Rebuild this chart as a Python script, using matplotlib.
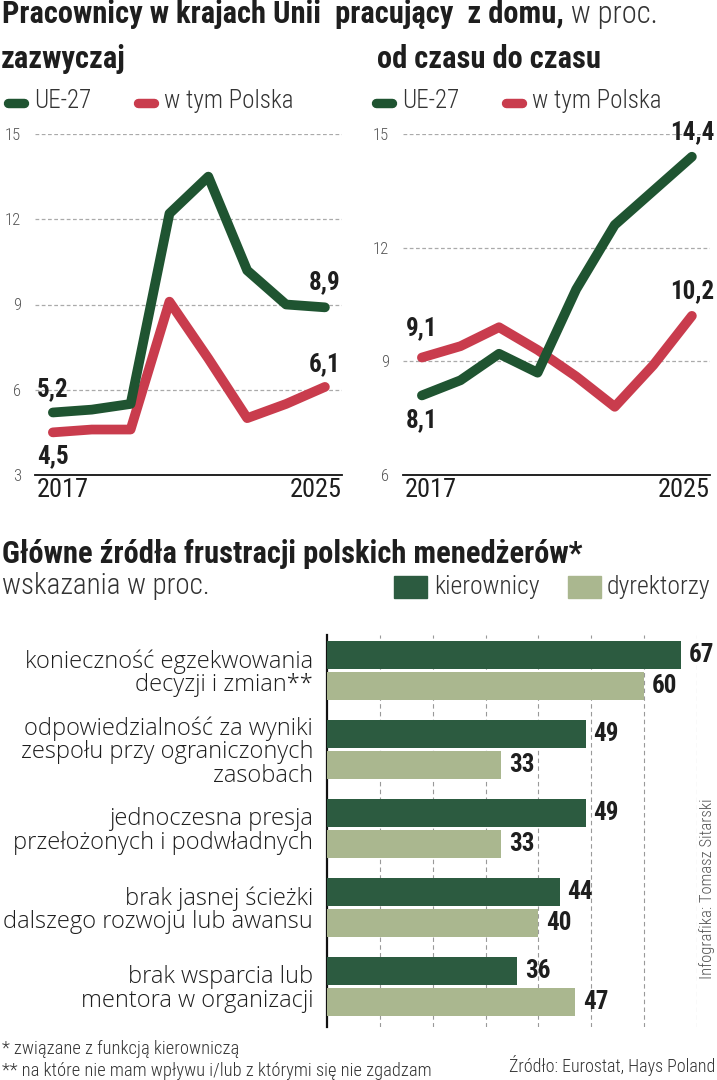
import numpy as np
import matplotlib.pyplot as plt
from matplotlib.lines import Line2D
from matplotlib.patches import Rectangle
from matplotlib.text import Annotation

COND = ['Roboto Condensed', 'DejaVu Sans']
WIDE = ['Open Sans', 'DejaVu Sans']
plt.rcParams['font.family'] = COND

# dane - praca z domu (UE-27 i Polska), w proc.
year_labels = ['2017', '2025']
ue_usually = [5.2, 5.3, 5.5, 12.2, 13.5, 10.2, 9.0, 8.9]
pl_usually = [4.5, 4.6, 4.6, 9.1, 7.1, 5.0, 5.5, 6.1]
ue_sometimes = [8.1, 8.5, 9.2, 8.7, 10.9, 12.6, 13.5, 14.4]
pl_sometimes = [9.1, 9.4, 9.9, 9.3, 8.6, 7.8, 8.9, 10.2]

# dane - frustracje menedzerow
categories = ['konieczność egzekwowania\ndecyzji i zmian**',
              'odpowiedzialność za wyniki\nzespołu przy ograniczonych\nzasobach',
              'jednoczesna presja\nprzełożonych i podwładnych',
              'brak jasnej ścieżki\ndalszego rozwoju lub awansu',
              'brak wsparcia lub\nmentora w organizacji']
kierownicy = [67, 49, 49, 44, 36]
dyrektorzy = [60, 33, 33, 40, 47]

GREEN = '#1f5431'
RED = '#c93c4d'
BAR_DARK = '#2c5b40'
BAR_LIGHT = '#aab78f'
TXT = '#1e1e1e'

W, H = 717, 1080
def px(x):
    return x / W
def py(y):
    return 1 - y / H

fig = plt.figure(figsize=(W / 100, H / 100), dpi=100)

# tytul
t1 = fig.text(px(2), py(23), 'Pracownicy w krajach Unii  pracujący  z domu,',
              fontsize=22, fontweight='bold', color=TXT, va='baseline')
fig.add_artist(Annotation(' w proc.', xy=(1, 0), xycoords=t1, va='bottom',
                          fontsize=22, fontweight='light', color='#333333'))
fig.text(px(1), py(68), 'zazwyczaj', fontsize=22, fontweight='bold', color=TXT, va='baseline')
fig.text(px(377), py(68), 'od czasu do czasu', fontsize=22, fontweight='bold', color=TXT,
         va='baseline')


def legend(x0):
    fig.add_artist(Line2D([px(x0 + 8), px(x0 + 24)], [py(103)] * 2, lw=6.8, color=GREEN,
                          solid_capstyle='round', transform=fig.transFigure))
    fig.text(px(x0 + 34), py(108), 'UE-27', fontsize=18, fontweight='light', color='#333333',
             va='baseline')
    fig.add_artist(Line2D([px(x0 + 138), px(x0 + 154)], [py(103)] * 2, lw=6.8, color=RED,
                          solid_capstyle='round', transform=fig.transFigure))
    fig.text(px(x0 + 164), py(108), 'w tym Polska', fontsize=18, fontweight='light',
             color='#333333', va='baseline')


def line_panel(left, ue, pl, ylim, yticks, xlim, notes):
    ax = fig.add_axes([px(left), py(475), 307 / W, 341 / H])
    x = np.arange(len(ue))
    ax.plot(x, pl, color=RED, lw=7, solid_capstyle='round', solid_joinstyle='round',
            clip_on=False)
    ax.plot(x, ue, color=GREEN, lw=7, solid_capstyle='round', solid_joinstyle='round',
            clip_on=False)
    ax.set_xlim(*xlim)
    ax.set_ylim(*ylim)
    ax.set_yticks(yticks)
    ax.set_yticklabels([str(t) for t in yticks], fontweight='light')
    ax.set_xticks([])
    ax.grid(axis='y', ls=(0, (3, 2)), color='#aaaaaa', lw=0.9)
    ax.set_axisbelow(True)
    for s in ['left', 'right', 'top']:
        ax.spines[s].set_visible(False)
    ax.spines['bottom'].set_color('#111111')
    ax.spines['bottom'].set_linewidth(1.3)
    ax.tick_params(axis='y', length=0, pad=10, labelsize=12, labelcolor='#555555')
    ax.text(0.005, -0.01, year_labels[0], transform=ax.transAxes, ha='left', va='top',
            fontsize=19, color=TXT)
    ax.text(1.0, -0.01, year_labels[1], transform=ax.transAxes, ha='right', va='top',
            fontsize=19, color=TXT)
    for i, vals, dy in notes:
        ax.annotate(f'{vals[i]:.1f}'.replace('.', ','), xy=(x[i], vals[i]),
                    xytext=(0, dy), textcoords='offset pixels', ha='center', va='center',
                    fontsize=18, fontweight='bold', color=TXT)
    return ax


legend(0)
legend(368)

line_panel(35, ue_usually, pl_usually, (3, 15), [3, 6, 9, 12, 15], (-0.46, 7.44),
           [(0, ue_usually, 23), (0, pl_usually, -24), (7, ue_usually, 25), (7, pl_usually, 23)])
ax2 = line_panel(403, ue_sometimes, pl_sometimes, (6, 15), [6, 9, 12, 15], (-0.49, 7.47),
                 [(7, ue_sometimes, 25), (7, pl_sometimes, 25), (0, pl_sometimes, 29), (0, ue_sometimes, -25)])
ax2.spines['bottom'].set_linestyle((0, (3, 1)))

# czesc druga - slupki
fig.text(px(2), py(563), 'Główne źródła frustracji polskich menedżerów*', fontsize=22,
         fontweight='bold', color=TXT, va='baseline')
fig.text(px(2), py(594), 'wskazania w proc.', fontsize=21, fontweight='light', color='#333333',
         va='baseline')
fig.add_artist(Rectangle((px(394), py(598)), 33 / W, 22 / H, color=BAR_DARK,
                         transform=fig.transFigure))
fig.text(px(434), py(594), 'kierownicy', fontsize=18.5, fontweight='light', color='#333333',
         va='baseline')
fig.add_artist(Rectangle((px(568), py(598)), 33 / W, 22 / H, color=BAR_LIGHT,
                         transform=fig.transFigure))
fig.text(px(607), py(594), 'dyrektorzy', fontsize=18.5, fontweight='light', color='#333333',
         va='baseline')

ax3 = fig.add_axes([px(327), py(1027), 370 / W, 392 / H])
y = np.arange(len(categories))
ax3.barh(y - 0.196, kierownicy, height=0.354, color=BAR_DARK, zorder=3)
ax3.barh(y + 0.196, dyrektorzy, height=0.354, color=BAR_LIGHT, zorder=3)
ax3.set_xlim(0, 70)
ax3.set_ylim(4.513, -0.449)
ax3.set_xticks(range(10, 80, 10))
ax3.set_xticklabels([])
ax3.grid(axis='x', ls=(0, (4, 3)), color='#999999', lw=0.8)
ax3.set_yticks(y, categories, fontsize=17, color=TXT, linespacing=0.97, family=WIDE,
               fontweight='light')
ax3.tick_params(length=0, pad=10)
for s in ['right', 'top', 'bottom']:
    ax3.spines[s].set_visible(False)
ax3.spines['left'].set_linewidth(1.6)
ax3.spines['left'].set_color('#111111')
for i in y:
    ax3.text(kierownicy[i] + 1.4, i - 0.196, str(kierownicy[i]), va='center', ha='left',
             fontsize=18, fontweight='bold', color=TXT)
    ax3.text(dyrektorzy[i] + 1.4, i + 0.196, str(dyrektorzy[i]), va='center', ha='left',
             fontsize=18, fontweight='bold', color=TXT)

fig.text(px(707), py(889), 'Infografika: Tomasz Sitarski', rotation=90, fontsize=12,
         fontweight='light', color='#555555', ha='center', va='center')
fig.text(px(2), py(1049), '* związane z funkcją kierowniczą', fontsize=13.3, fontweight='light',
         color='#333333', va='center')
fig.text(px(2), py(1071), '** na które nie mam wpływu i/lub z którymi się nie zgadzam',
         fontsize=13.3, fontweight='light', color='#333333', va='center')
fig.text(px(715), py(1066), 'Źródło: Eurostat, Hays Poland', fontsize=13, fontweight='light',
         color='#333333', ha='right', va='center')

fig.savefig('out.png', dpi=100)
